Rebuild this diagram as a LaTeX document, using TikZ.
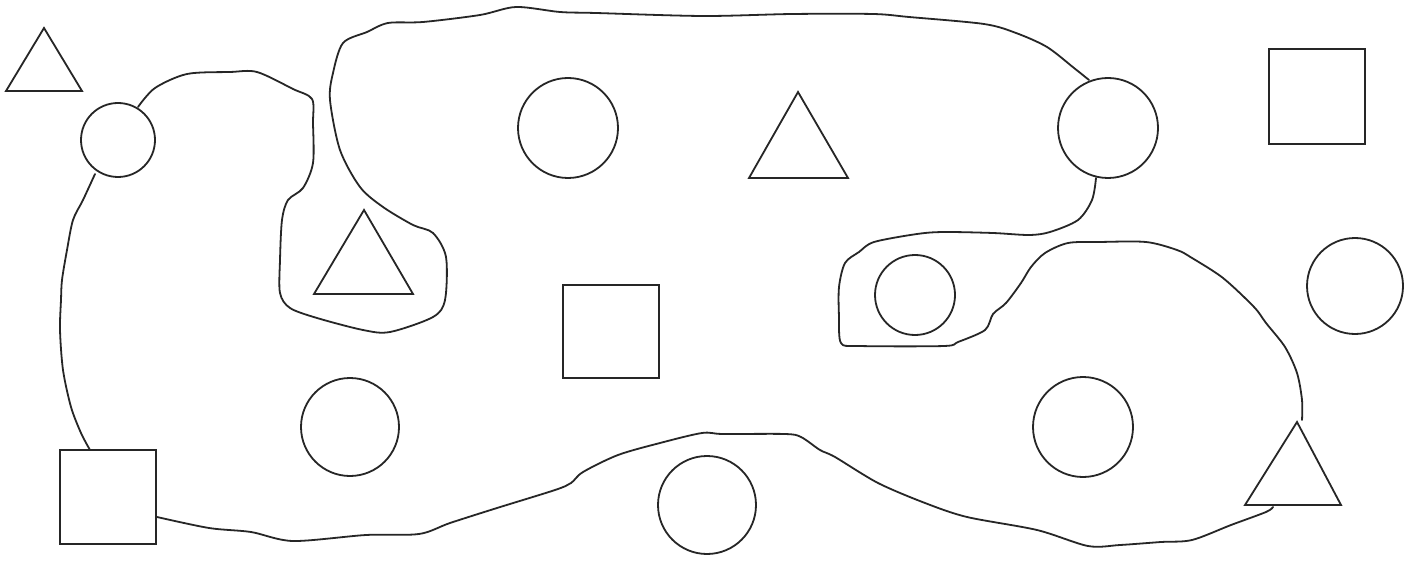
\documentclass[tikz,border=0pt]{standalone}
\begin{document}
\begin{tikzpicture}[x=1pt,y=-1pt,
  shp/.style={draw=black!85,line width=1.8pt},
  crv/.style={draw=black!85,line width=1.8pt,line join=round,line cap=round}]
\useasboundingbox[fill=white] (0,0) rectangle (1420,561);
% triangles
\draw[shp] (6,91) -- (82,91) -- (44,28) -- cycle;
\draw[shp] (314,294) -- (413,294) -- (364,210) -- cycle;
\draw[shp] (749,178) -- (848,178) -- (798,92) -- cycle;
\draw[shp] (1245,505) -- (1341,505) -- (1297,422) -- cycle;
% squares
\draw[shp] (1269,49) rectangle (1365,144);
\draw[shp] (563,285) rectangle (659,378);
\draw[shp] (60,450) rectangle (156,544);
% circles
\draw[shp] (118,140) circle (37);
\draw[shp] (568,128) circle (50);
\draw[shp] (1108,128) circle (50);
\draw[shp] (915,295) circle (40);
\draw[shp] (1355,286) circle (48);
\draw[shp] (350,427) circle (49);
\draw[shp] (1083,427) circle (50);
\draw[shp] (707,505) circle (49);
% freeform boundary
\draw[crv] plot[smooth,tension=0.5] coordinates {
(138,107) (155,88) (187,74) (230,72) (257,72) (293,89) (312,99) (313,123) (313,163)
(303,188) (288,200) (282,220) (280,260) (280,293) (290,308) (317,318) (363,330)
(390,332) (433,317) (445,300) (446,257) (433,233) (413,225) (383,207) (360,187)
(340,150) (330,100) (333,73) (343,43) (367,32) (388,23) (423,22) (480,15) (516,7)
(560,12) (596,13) (703,16) (792,14) (873,14) (909,17) (984,24) (1016,33) (1047,47)
(1074,68) (1089,80)};
\draw[crv] plot[smooth,tension=0.5] coordinates {
(1096,178) (1092,200) (1078,220) (1050,232) (1029,235) (993,233) (944,232) (917,234)
(874,242) (859,252) (845,263) (839,287) (839,317) (841,343) (859,346) (944,346)
(958,342) (985,330) (993,314) (1006,303) (1021,283) (1031,267) (1045,253) (1068,243)
(1099,242) (1146,242) (1177,250) (1192,258) (1223,278) (1254,307) (1266,323)
(1285,347) (1297,373) (1302,400) (1302,420)};
\draw[crv] plot[smooth,tension=0.5] coordinates {
(1273,507) (1266,512) (1231,525) (1192,540) (1161,542) (1120,545) (1088,546)
(1037,530) (967,517) (925,503) (878,483) (835,457) (820,450) (801,437) (785,434)
(723,434) (702,433) (660,443) (618,455) (583,472) (571,483) (555,490) (497,508)
(450,523) (419,534) (366,535) (293,541) (251,532) (209,528) (157,517)};
\draw[crv] plot[smooth,tension=0.5] coordinates {
(90,450) (81,433) (71,407) (63,370) (60,330) (61,300) (62,280) (67,250) (73,220)
(83,200) (95,174)};
\end{tikzpicture}
\end{document}
